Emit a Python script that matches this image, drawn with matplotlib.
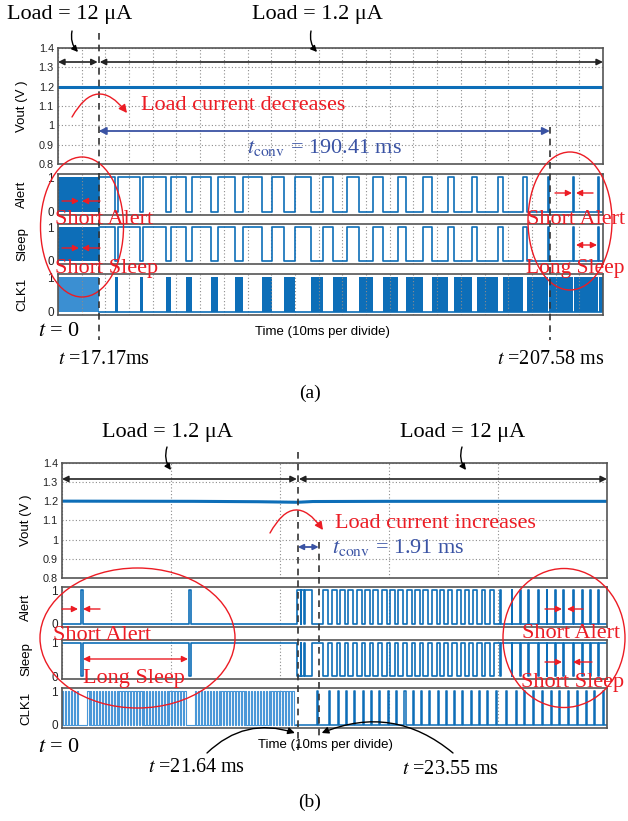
import numpy as np
import matplotlib
matplotlib.use('Agg')
import matplotlib.pyplot as plt
from matplotlib.patches import Ellipse

plt.rcParams['mathtext.fontset'] = 'stix'
SERIF = 'Liberation Serif'
SANS = 'Liberation Sans'

W, H = 628, 821
BLUE = '#0d6eb8'
LIGHTBLUE = '#3b8fd2'
RED = '#ec1c24'
TBLUE = '#3a53a4'
FRAME = '#555555'
GRID = '#8c8c8c'

# ---------------- data: panel (a) ----------------
A_TMAX = 230.0
A_DIV = 10.0
A_T_SWITCH = 17.17
A_T_END = 207.58
A_T_CONV = 190.41
A_VOUT_T = [0.0, 230.0]
A_VOUT_V = [1.2, 1.2]
A_DENSE_END = 17.17
A_ALERT_RISE = [17.17, 25.2, 36.0, 47.7, 56.4, 67.7, 77.9, 90.2, 100.0, 112.0,
                122.1, 133.1, 143.6, 154.2, 164.7, 174.6, 185.8, 196.4, 206.8, 217.3, 227.9]
A_ALERT_FALL = [24.0, 34.6, 45.6, 53.9, 64.6, 74.7, 86.0, 95.4, 106.8, 116.2,
                127.2, 137.3, 146.9, 157.7, 167.1, 176.7, 187.9, 197.9, 207.2, 217.7, 228.3]

# ---------------- data: panel (b) ----------------
B_TMAX = 50.0
B_DIV = 10.0
B_T_SWITCH = 21.64
B_T_END = 23.55
B_T_CONV = 1.91
B_VOUT_T = [0.0, 12.0, 18.0, 21.6, 23.0, 30.0, 50.0]
B_VOUT_V = [1.201, 1.200, 1.198, 1.195, 1.199, 1.200, 1.200]
B_ALERT_RISE = [1.75, 11.68, 21.53, 21.95, 22.25,
                23.91, 24.74, 25.50, 26.27, 27.03, 27.80, 28.56, 29.33, 30.09, 30.86,
                31.62, 32.39, 33.15, 33.91, 34.68, 35.44, 36.21, 36.97, 37.74, 38.50,
                39.27, 40.18, 41.25, 42.02, 42.78, 43.70, 44.46, 45.23, 45.99, 46.91,
                47.68, 48.44, 49.20]
B_ALERT_FALL = [1.90, 11.83, 21.90, 22.20, 22.90,
                24.36, 25.19, 25.95, 26.72, 27.48, 28.25, 29.01, 29.78, 30.54, 31.31,
                32.07, 32.84, 33.60, 34.36, 35.03, 35.79, 36.56, 37.32, 38.09, 38.85,
                39.62, 40.26, 41.33, 42.10, 42.86, 43.78, 44.54, 45.31, 46.07, 46.99,
                47.76, 48.52, 49.28]
B_CLK_ON = [0.0, 2.3, 12.2]
B_CLK_OFF = [1.5, 11.5, 21.5]
B_CLK_PERIOD = 0.27
B_CLK_PULSE_W = 0.1

VOUT_TICKS = [0.8, 0.9, 1.0, 1.1, 1.2, 1.3, 1.4]
VOUT_LABELS = ['0.8', '0.9', '1', '1.1', '1.2', '1.3', '1.4']

fig = plt.figure(figsize=(W / 100, H / 100), dpi=100)


def add_ax(l, r, t, b):
    ax = fig.add_axes([l / W, 1 - b / H, (r - l) / W, (b - t) / H])
    ax.set_facecolor('none')
    for s in ax.spines.values():
        s.set_color(FRAME)
        s.set_linewidth(1.2)
    ax.tick_params(length=0, pad=3, labelsize=7.5, colors='#222')
    return ax


def style_vout(ax, tmax, div):
    ax.set_xlim(0, tmax)
    ax.set_ylim(0.8, 1.4)
    ax.set_yticks(VOUT_TICKS)
    ax.set_yticklabels(VOUT_LABELS, family=SANS, fontsize=7.8)
    ax.set_xticks(np.arange(0, tmax + 0.1, div))
    ax.set_xticklabels([])
    ax.grid(True, ls=(0, (1, 2)), color=GRID, lw=0.8)
    ax.set_ylabel('Vout (V )', family=SANS, fontsize=9.5)


def style_sig(ax, tmax, div, label):
    ax.set_xlim(0, tmax)
    ax.set_ylim(-0.09, 1.09)
    ax.set_yticks([0, 1])
    ax.set_yticklabels(['0', '1'], family=SANS, fontsize=8.5)
    ax.set_xticks(np.arange(0, tmax + 0.1, div))
    ax.set_xticklabels([])
    ax.grid(True, axis='x', ls=(0, (1, 2)), color=GRID, lw=0.8)
    ax.set_ylabel(label, family=SANS, fontsize=9.5)


def steps(rises, falls, t0, t1):
    t = [t0]
    y = [0]
    for r, f in zip(rises, falls):
        t += [r, r, f, f]
        y += [0, 1, 1, 0]
    t.append(t1)
    y.append(0)
    return np.array(t), np.array(y)


# ================= panel (a) =================
aV = add_ax(58, 603, 48, 164)
aA = add_ax(58, 603, 174, 215)
aS = add_ax(58, 603, 224, 264)
aC = add_ax(58, 603, 274, 315)
style_vout(aV, A_TMAX, A_DIV)
style_sig(aA, A_TMAX, A_DIV, 'Alert')
style_sig(aS, A_TMAX, A_DIV, 'Sleep')
style_sig(aC, A_TMAX, A_DIV, 'CLK1')
for ax in (aV, aA, aS, aC):
    ax.yaxis.set_label_coords(-0.055, 0.5)

aV.plot(A_VOUT_T, A_VOUT_V, color=BLUE, lw=2.2)

ta, ya = steps(A_ALERT_RISE, A_ALERT_FALL, A_DENSE_END, A_TMAX)
aA.plot(ta, ya, color=BLUE, lw=1.2)
aS.plot(ta, ya, color=BLUE, lw=1.2)
aA.fill_between([0, A_DENSE_END], 0, 1, color=BLUE, lw=0)
aS.fill_between([0, A_DENSE_END], 0, 1, color=BLUE, lw=0)
aC.fill_between([0, A_DENSE_END], 0, 1, color=LIGHTBLUE, lw=0)
# CLK1 runs while Alert is low
lows_a = list(zip(A_ALERT_FALL, A_ALERT_RISE[1:] + [A_TMAX]))
for a0, a1 in lows_a:
    aC.fill_between([a0, a1], 0, 1, color=BLUE, lw=0)
aC.plot([A_DENSE_END, A_TMAX], [0, 0], color=BLUE, lw=1.2)

# ================= panel (b) =================
bV = add_ax(62, 607, 463, 578)
bA = add_ax(62, 607, 587, 627)
bS = add_ax(62, 607, 640, 679)
bC = add_ax(62, 607, 688, 728)
style_vout(bV, B_TMAX, B_DIV)
style_sig(bA, B_TMAX, B_DIV, 'Alert')
style_sig(bS, B_TMAX, B_DIV, 'Sleep')
style_sig(bC, B_TMAX, B_DIV, 'CLK1')
for ax in (bV, bA, bS, bC):
    ax.yaxis.set_label_coords(-0.055, 0.5)

bV.plot(B_VOUT_T, B_VOUT_V, color=BLUE, lw=2.2)
tb, yb = steps(B_ALERT_RISE, B_ALERT_FALL, 0.0, B_TMAX)
bA.plot(tb, yb, color=BLUE, lw=1.2)
bS.plot(tb, 1 - yb, color=BLUE, lw=1.2)

# CLK1 in (b): clock bursts before the switch, single pulses in each Alert-low gap after
cr, cf = [], []
for on, off in zip(B_CLK_ON, B_CLK_OFF):
    for e in np.arange(on, off - B_CLK_PERIOD / 2, B_CLK_PERIOD):
        cr.append(e)
        cf.append(e + B_CLK_PERIOD / 2)
tc1, yc1 = steps(cr, cf, 0.0, B_T_SWITCH)
bC.plot(tc1, yc1, color='#4a98d8', lw=0.8)
pr, pf = [], []
lows_b = list(zip(B_ALERT_FALL[4:], B_ALERT_RISE[5:] + [B_TMAX]))
for a0, a1 in lows_b:
    m = (a0 + a1) / 2
    pr.append(m - B_CLK_PULSE_W / 2)
    pf.append(m + B_CLK_PULSE_W / 2)
tc2, yc2 = steps(pr, pf, B_T_SWITCH - 0.15, B_TMAX)
bC.plot(tc2, yc2, color=BLUE, lw=1.1)

# ================= overlay for annotations =================
ov = fig.add_axes([0, 0, 1, 1], zorder=10)
ov.set_xlim(0, W)
ov.set_ylim(H, 0)
ov.axis('off')
ov.patch.set_alpha(0)


def px(ax, t):
    d = ax.transData.transform((t, ax.get_ylim()[0]))
    return ov.transData.inverted().transform(d)[0]


def arrow(x1, y1, x2, y2, style='-|>', color='k', lw=1.0, ms=10, rad=0.0):
    ov.annotate('', xy=(x2, y2), xytext=(x1, y1),
                arrowprops=dict(arrowstyle=style, color=color, lw=lw, mutation_scale=ms,
                                shrinkA=0, shrinkB=0, connectionstyle=f'arc3,rad={rad}'))


def txt(x, y, s, size, color='k', family=SERIF, ha='left', style='normal'):
    ov.text(x, y, s, fontsize=size, color=color, family=family, ha=ha, va='center',
            style=style)


def dashed(x, y0, y1):
    ov.plot([x, x], [y0, y1], color='#333333', lw=1.2, ls=(0, (4, 3)))


def ell(cx, cy, w, h):
    ov.add_patch(Ellipse((cx, cy), w, h, fill=False, ec=RED, lw=1.0))


# ---- (a) annotations ----
xs_a = px(aV, A_T_SWITCH)
xe_a = px(aV, A_T_END)
x0_a = px(aV, 0)
x1_a = px(aV, A_TMAX)
dashed(xs_a, 33, 340)
dashed(xe_a, 127, 340)

txt(70, 15, 'Load = 12 μA', 16, ha='center')
txt(317, 15, 'Load = 1.2 μA', 16, ha='center')
arrow(72, 31, 78, 52, rad=0.25, ms=9)
arrow(311, 31, 317, 52, rad=0.25, ms=9)
arrow(x0_a, 62, xs_a - 1, 62, style='<|-|>', color='#222222', lw=1.2, ms=9)
arrow(xs_a + 1, 62, x1_a, 62, style='<|-|>', color='#222222', lw=1.2, ms=9)

arrow(72, 117, 127, 113, color=RED, lw=1.0, ms=12, rad=-0.75)
txt(141, 106, 'Load current decreases', 16, color=RED)
arrow(xs_a, 131, xe_a, 131, style='<|-|>', color=TBLUE, lw=1.3, ms=11)
txt(247, 147, r'$t_{\mathrm{conv}}$ = %.2f ms' % A_T_CONV, 16, color=TBLUE)

ell(82, 227, 83, 140)
ell(570, 221, 84, 138)
txt(55, 220, 'Short Alert', 16, color=RED)
txt(55, 268, 'Short Sleep', 16, color=RED)
txt(527, 219, 'Short Alert', 16, color=RED)
txt(526, 268, 'Long Sleep', 15.5, color=RED)
for yy in (201, 248):
    arrow(62, yy, 79, yy, color=RED, ms=9)
    arrow(100, yy, 82, yy, color=RED, ms=9)
arrow(555, 193, 572, 193, color=RED, ms=9)
arrow(593, 193, 576, 193, color=RED, ms=9)
arrow(576, 245, 597, 245, style='<|-|>', color=RED, ms=9)

txt(255, 332, 'Time (10ms per divide)', 9.5, family=SANS)
txt(38, 332, r'$t$ = 0', 16)
txt(58, 360, r'$t$ =%.2fms' % A_T_SWITCH, 14.5)
txt(497, 360, r'$t$ =%.2f ms' % A_T_END, 14.5)
txt(310, 393, '(a)', 14, ha='center')

# ---- (b) annotations ----
xs_b = px(bV, B_T_SWITCH)
xe_b = px(bV, B_T_END)
x0_b = px(bV, 0)
x1_b = px(bV, B_TMAX)
dashed(xs_b, 452, 750)
dashed(xe_b, 542, 737)

txt(167, 433, 'Load = 1.2 μA', 16, ha='center')
txt(463, 433, 'Load = 12 μA', 16, ha='center')
arrow(167, 447, 171, 470, rad=0.25, ms=9)
arrow(462, 447, 466, 470, rad=0.25, ms=9)
arrow(x0_b, 479, xs_b - 1, 479, style='<|-|>', color='#222222', lw=1.2, ms=9)
arrow(xs_b + 1, 479, x1_b, 479, style='<|-|>', color='#222222', lw=1.2, ms=9)

arrow(270, 533, 323, 530, color=RED, lw=1.0, ms=12, rad=-0.8)
txt(335, 524, 'Load current increases', 16, color=RED)
arrow(xs_b, 547, xe_b, 547, style='<|-|>', color=TBLUE, lw=1.3, ms=8)
txt(332, 548, r'$t_{\mathrm{conv}}$ = %.2f ms' % B_T_CONV, 16, color=TBLUE)

ell(137.5, 638, 195, 140)
ell(564, 638, 122, 139)
txt(53, 635, 'Short Alert', 16, color=RED)
txt(83, 679, 'Long Sleep', 16, color=RED)
txt(522, 633, 'Short Alert', 16, color=RED)
txt(521, 683, 'Short Sleep', 16, color=RED)
arrow(62, 609, 78, 609, color=RED, ms=9)
arrow(100, 609, 83, 609, color=RED, ms=9)
arrow(83, 659, 188, 659, style='<|-|>', color=RED, ms=9)
arrow(545, 609, 562, 609, color=RED, ms=9)
arrow(583, 609, 567, 609, color=RED, ms=9)
arrow(545, 662, 562, 662, color=RED, ms=9)
arrow(592, 662, 573, 662, color=RED, ms=9)

txt(258, 745, 'Time (10ms per divide)', 9.5, family=SANS)
txt(38, 747, r'$t$ = 0', 16)
txt(148, 768, r'$t$ =%.2f ms' % B_T_SWITCH, 14.5)
txt(402, 770, r'$t$ =%.2f ms' % B_T_END, 14.5)
arrow(207, 753, xs_b - 3, 733, rad=-0.3, ms=10)
arrow(453, 753, xe_b + 3, 733, rad=0.3, ms=10)
txt(310, 802, '(b)', 14, ha='center')

fig.savefig('out.png', dpi=100)
